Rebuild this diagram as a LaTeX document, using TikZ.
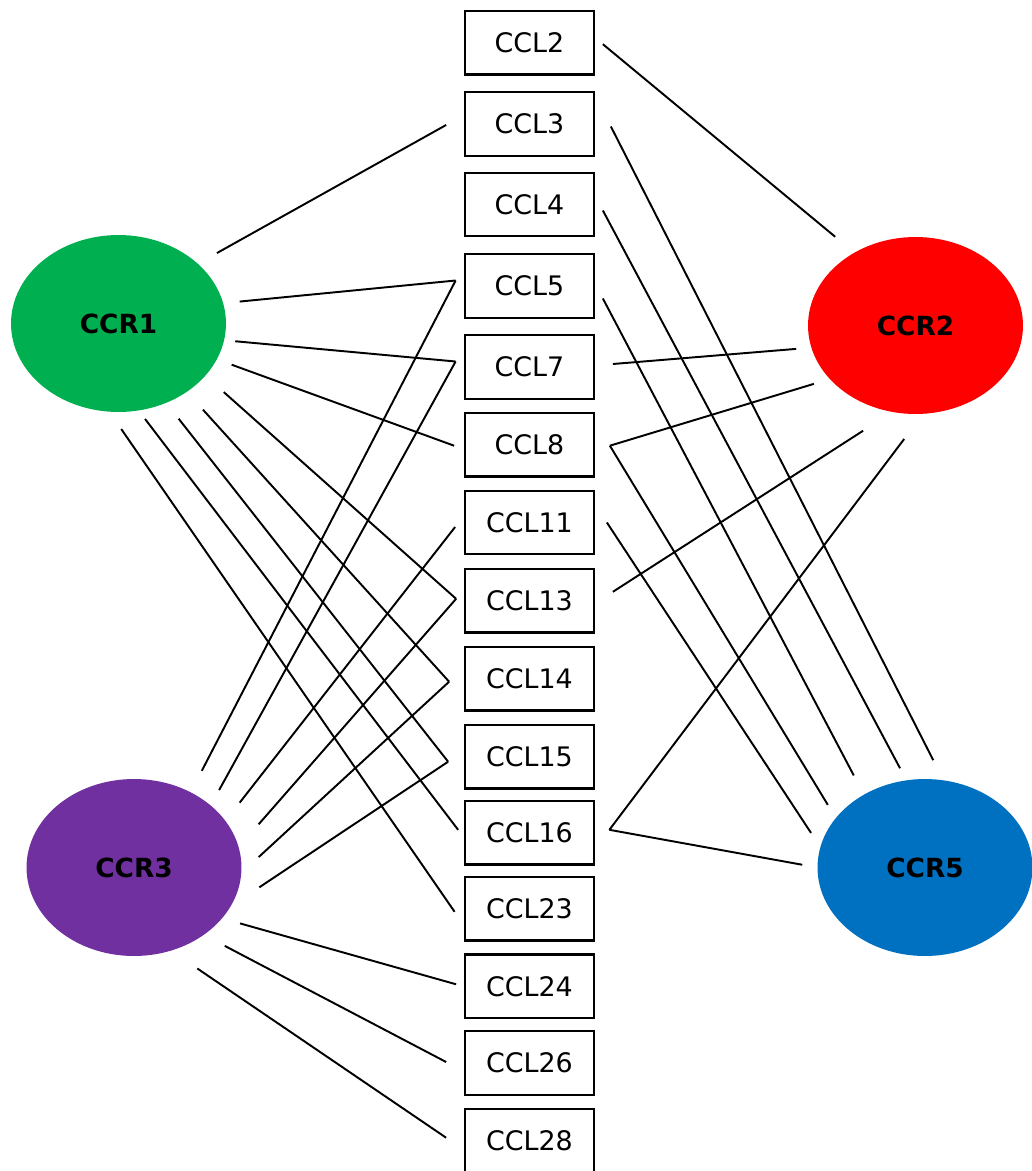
\documentclass[tikz,border=0pt]{standalone}
\usepackage{fontspec}
\setmainfont{DejaVu Sans}
\usetikzlibrary{shapes.geometric,calc}

\definecolor{ccrgreen}{HTML}{00B050}
\definecolor{ccrred}{HTML}{FF0000}
\definecolor{ccrpurple}{HTML}{7030A0}
\definecolor{ccrblue}{HTML}{0070C0}

\tikzset{
	ccl/.style={draw, rectangle, line width=1.3pt, minimum width=2.57cm, minimum height=1.27cm, inner sep=0pt, font=\fontsize{15.3}{18}\selectfont},
	ccr/.style={ellipse, fill=#1, minimum width=4.3cm, minimum height=3.54cm, inner sep=0pt, outer sep=0pt, font=\bfseries\fontsize{15}{18}\selectfont},
	link/.style={line width=1.1pt}
}

\begin{document}
\begin{tikzpicture}[x=0.02cm, y=-0.02cm]
		\useasboundingbox (0,0) rectangle (1032,1171);

		% Draw the receptors
		\node[ccr=ccrgreen] (ccr1) at (118.5,323.5) {CCR1};
		\node[ccr=ccrred] (ccr2) at (915.5,325.5) {CCR2};
		\node[ccr=ccrpurple] (ccr3) at (134,867.5) {CCR3};
		\node[ccr=ccrblue] (ccr5) at (925,867.5) {CCR5};

		% Draw the column of ligands
		\node[ccl] (ccl2) at (529.5,42.7) {CCL2};
		\node[ccl] (ccl3) at (529.5,124) {CCL3};
		\node[ccl] (ccl4) at (529.5,204.5) {CCL4};
		\node[ccl] (ccl5) at (529.5,286) {CCL5};
		\node[ccl] (ccl7) at (529.5,367) {CCL7};
		\node[ccl] (ccl8) at (529.5,444.7) {CCL8};
		\node[ccl] (ccl11) at (529.5,522.5) {CCL11};
		\node[ccl] (ccl13) at (529.5,600.8) {CCL13};
		\node[ccl] (ccl14) at (529.5,678.7) {CCL14};
		\node[ccl] (ccl15) at (529.5,756.7) {CCL15};
		\node[ccl] (ccl16) at (529.5,832.8) {CCL16};
		\node[ccl] (ccl23) at (529.5,908.8) {CCL23};
		\node[ccl] (ccl24) at (529.5,986.3) {CCL24};
		\node[ccl] (ccl26) at (529.5,1063) {CCL26};
		\node[ccl] (ccl28) at (529.5,1140.7) {CCL28};

		% Points where the lines stop, left of the boxes
		\coordinate (ccl3-l) at ($(ccl3.west)+(-18,1)$);
		\coordinate (ccl5-l) at ($(ccl5.west)+(-8.5,-5.5)$);
		\coordinate (ccl7-l) at ($(ccl7.west)+(-8.5,-5.5)$);
		\coordinate (ccl8-l) at ($(ccl8.west)+(-10,1)$);
		\coordinate (ccl11-l) at ($(ccl11.west)+(-9,4.5)$);
		\coordinate (ccl13-l) at ($(ccl13.west)+(-8,-2)$);
		\coordinate (ccl14-l) at ($(ccl14.west)+(-15,3)$);
		\coordinate (ccl15-l) at ($(ccl15.west)+(-16,5)$);
		\coordinate (ccl16-l) at ($(ccl16.west)+(-6,-3)$);
		\coordinate (ccl23-l) at ($(ccl23.west)+(-9.5,3)$);
		\coordinate (ccl24-l) at ($(ccl24.west)+(-8,-2)$);
		\coordinate (ccl26-l) at ($(ccl26.west)+(-18,-1)$);
		\coordinate (ccl28-l) at ($(ccl28.west)+(-18,-3)$);

		% Points where the lines stop, right of the boxes
		\coordinate (ccl2-r) at ($(ccl2.east)+(8,1.5)$);
		\coordinate (ccl3-r) at ($(ccl3.east)+(16,2.5)$);
		\coordinate (ccl4-r) at ($(ccl4.east)+(8,6)$);
		\coordinate (ccl5-r) at ($(ccl5.east)+(8,12.5)$);
		\coordinate (ccl7-r) at ($(ccl7.east)+(18,-3)$);
		\coordinate (ccl8-r) at ($(ccl8.east)+(15,1)$);
		\coordinate (ccl11-r) at ($(ccl11.east)+(12,0)$);
		\coordinate (ccl13-r) at ($(ccl13.east)+(18,-9)$);
		\coordinate (ccl16-r) at ($(ccl16.east)+(14.5,-3)$);

		% Draw the lines from CCR1
		\draw[link, shorten <=12.5pt] (ccr1.37) -- (ccl3-l);
		\draw[link, shorten <=9.5pt] (ccr1.11.8) -- (ccl5-l);
		\draw[link, shorten <=6.4pt] (ccr1.-9.6) -- (ccl7-l);
		\draw[link, shorten <=9pt] (ccr1.-20.8) -- (ccl8-l);
		\draw[link, shorten <=14.1pt] (ccr1.-31.4) -- (ccl13-l);
		\draw[link, shorten <=13.7pt] (ccr1.-45.3) -- (ccl14-l);
		\draw[link, shorten <=11.5pt] (ccr1.-59) -- (ccl15-l);
		\draw[link, shorten <=6.1pt] (ccr1.-77.2) -- (ccl16-l);
		\draw[link, shorten <=12pt] (ccr1.-96.3) -- (ccl23-l);

		% Draw the lines from CCR3
		\draw[link, shorten <=13.8pt] (ccr3.53.8) -- (ccl5-l);
		\draw[link, shorten <=10pt] (ccr3.39.3) -- (ccl7-l);
		\draw[link, shorten <=13.2pt] (ccr3.27.4) -- (ccl11-l);
		\draw[link, shorten <=17.3pt] (ccr3.11) -- (ccl13-l);
		\draw[link, shorten <=13.5pt] (ccr3.-3.6) -- (ccl14-l);
		\draw[link, shorten <=19.7pt] (ccr3.-22.7) -- (ccl15-l);
		\draw[link, shorten <=10.7pt] (ccr3.-30.7) -- (ccl24-l);
		\draw[link, shorten <=13.5pt] (ccr3.-44.9) -- (ccl26-l);
		\draw[link, shorten <=18.1pt] (ccr3.-66.4) -- (ccl28-l);

		% Draw the lines from CCR2
		\draw[link, shorten <=14.2pt] (ccr2.130.1) -- (ccl2-r);
		\draw[link, shorten <=8.7pt] (ccr2.192.9) -- (ccl7-r);
		\draw[link, shorten <=9.5pt] (ccr2.212.4) -- (ccl8-r);
		\draw[link, shorten <=19.8pt] (ccr2.255.9) -- (ccl13-r);
		\draw[link, shorten <=18pt] (ccr2.275.6) -- (ccl16-r);

		% Draw the lines from CCR5
		\draw[link, shorten <=12.9pt] (ccr5.78.4) -- (ccl3-r);
		\draw[link, shorten <=7.8pt] (ccr5.102.7) -- (ccl4-r);
		\draw[link, shorten <=12.4pt] (ccr5.130.7) -- (ccl5-r);
		\draw[link, shorten <=8.8pt] (ccr5.151.9) -- (ccl8-r);
		\draw[link, shorten <=9.7pt] (ccr5.169.6) -- (ccl11-r);
		\draw[link, shorten <=8.8pt] (ccr5.180.5) -- (ccl16-r);

\end{tikzpicture}
\end{document}
